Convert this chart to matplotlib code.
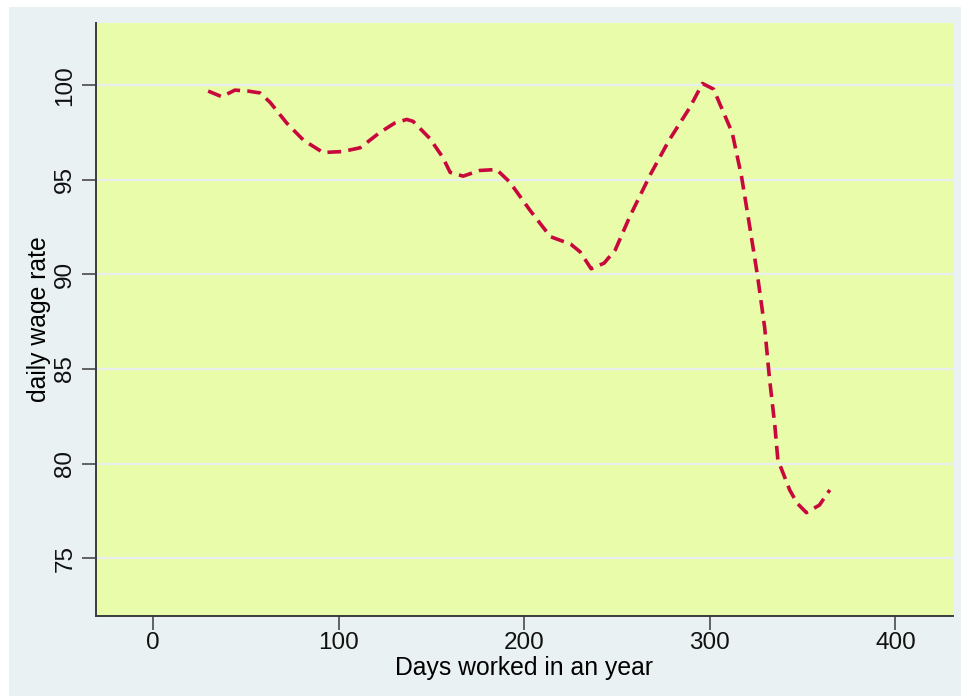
import matplotlib.pyplot as plt
from matplotlib.patches import Rectangle

plt.rcParams['font.family'] = ['Liberation Sans', 'DejaVu Sans']

# smoothed wage curve
days = [29.6, 37, 44, 51, 57.6, 63, 72, 81, 91.5, 102, 111.5, 122, 130, 136.6, 140,
        149, 156, 160, 167, 176, 185, 192, 203, 214, 225, 230, 236, 243, 249,
        257, 268, 278, 289, 296, 302, 305, 312, 317, 321.5, 325.7, 329.5, 332,
        335, 336.6, 339, 343, 347, 352, 359, 364.6]
wage = [99.7, 99.4, 99.75, 99.7, 99.6, 99.1, 98.0, 97.1, 96.45, 96.5, 96.7, 97.5, 98.0,
        98.2, 98.1, 97.2, 96.2, 95.4, 95.2, 95.5, 95.55, 94.9, 93.4, 92.0, 91.6, 91.2,
        90.3, 90.6, 91.3, 93.1, 95.3, 97.1, 98.8, 100.1, 99.8, 99.1, 97.5, 95.2, 92.5,
        89.9, 87.2, 84.6, 82.0, 80.2, 79.6, 78.6, 77.9, 77.4, 77.8, 78.6]

xticks = [0, 100, 200, 300, 400]
yticks = [75, 80, 85, 90, 95, 100]

fig = plt.figure(figsize=(9.61, 6.96), dpi=100)
fig.patch.set_facecolor('white')
# grey outer panel (leaves a thin white strip on left/top)
panel = Rectangle((9 / 961, 0), 1, 1 - 7 / 696, transform=fig.transFigure,
                  facecolor='#eaf1f3', edgecolor='none', zorder=-10)
fig.add_artist(panel)

ax = fig.add_axes([95.7 / 961, 1 - 615.7 / 696, (953 - 95.7) / 961, (615.7 - 23) / 696])
ax.set_facecolor('#e9fcaa')

ax.plot(days, wage, color='#c8083c', lw=2.6, dashes=(3.8, 2.0))

ax.set_xlim(-31, 431)
ax.set_ylim(71.95, 103.3)
ax.set_xticks(xticks)
ax.set_yticks(yticks)
ax.set_yticklabels([str(t) for t in yticks], rotation=90, va='center')
ax.grid(axis='y', color='#eaeeee', lw=1.6)
ax.set_axisbelow(True)

for s in ['top', 'right']:
    ax.spines[s].set_visible(False)
for s in ['left', 'bottom']:
    ax.spines[s].set_color('#3c3c3c')
    ax.spines[s].set_linewidth(1.4)

ax.tick_params(axis='both', length=10, width=1.1, color='#3c3c3c', labelsize=17.5,
               labelcolor='#111111')
ax.tick_params(axis='x', pad=1.5)
ax.tick_params(axis='y', pad=4)
ax.set_xlabel('Days worked in an year', fontsize=17.8, labelpad=2)
ax.set_ylabel('daily wage rate', fontsize=17.8)
ax.yaxis.set_label_coords(-0.052, 0.5)

plt.savefig('out.png', dpi=100)
